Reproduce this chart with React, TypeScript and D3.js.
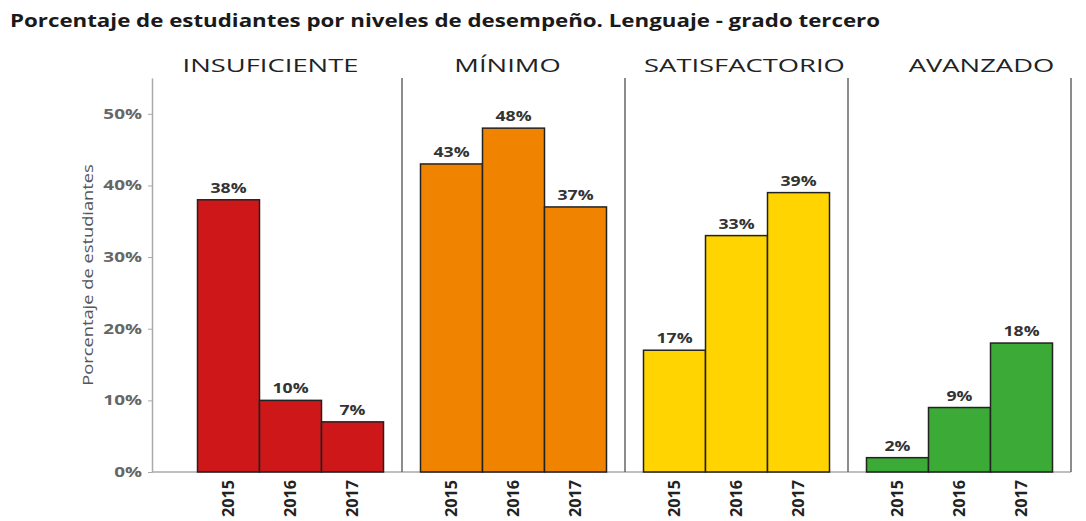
import * as d3 from 'd3';
import { useEffect, useRef } from 'react';

const levels = ['INSUFICIENTE', 'MÍNIMO', 'SATISFACTORIO', 'AVANZADO'];
const years = ['2015', '2016', '2017'];
const insuficiente = [38, 10, 7];
const minimo = [43, 48, 37];
const satisfactorio = [17, 33, 39];
const avanzado = [2, 9, 18];
const levelColors = ['#cd1719', '#f08400', '#ffd400', '#3caa36'];
const yTicks = [0, 10, 20, 30, 40, 50];

const App = () => {
  const svgRef = useRef<SVGSVGElement | null>(null);

  useEffect(() => {
    const width = 1086;
    const height = 521;
    const margin = { top: 78, right: 15, bottom: 49, left: 152 };
    const font = '"Open Sans", "DejaVu Sans", sans-serif';
    const values = [insuficiente, minimo, satisfactorio, avanzado];

    const svg = d3.select(svgRef.current)
      .attr('width', width)
      .attr('height', height);
    svg.selectAll('*').remove();

    const y = d3.scaleLinear()
      .domain([0, 55])
      .range([height - margin.bottom, margin.top]);

    // panels
    const x = d3.scaleBand<string>()
      .domain(levels)
      .range([179, width - margin.right])
      .paddingInner(0);

    // header labels sit a bit wider than the panels
    const xh = d3.scaleBand<string>()
      .domain(levels)
      .range([margin.left, 1100]);

    const xi = d3.scaleBand<string>()
      .domain(years)
      .range([18.5, x.bandwidth() - 18.5])
      .padding(0);

    // title
    svg.append('text')
      .attr('x', 10)
      .attr('y', 27)
      .attr('font-family', font)
      .attr('font-weight', 700)
      .attr('font-size', 17)
      .attr('fill', '#1a1a1a')
      .attr('textLength', 870)
      .attr('lengthAdjust', 'spacingAndGlyphs')
      .text('Porcentaje de estudiantes por niveles de desempeño. Lenguaje - grado tercero');

    // y axis
    const yAxis = svg.append('g')
      .attr('transform', `translate(${margin.left},0)`)
      .call(d3.axisLeft(y).tickValues(yTicks).tickFormat((d) => `${d}%`).tickSize(4).tickSizeOuter(0));
    yAxis.select('.domain').attr('stroke', '#aaa').attr('stroke-width', 1.5);
    yAxis.selectAll('.tick line').attr('stroke', '#aaa');
    yAxis.selectAll('.tick text')
      .attr('font-family', font)
      .attr('font-weight', 700)
      .attr('font-size', 14)
      .attr('fill', '#666')
      .attr('x', 0)
      .attr('transform', 'translate(-10,0) scale(1.35,1)');

    svg.append('text')
      .attr('transform', `translate(93,${(margin.top + height - margin.bottom) / 2}) rotate(-90) scale(1.22,1)`)
      .attr('text-anchor', 'middle')
      .attr('font-family', font)
      .attr('font-size', 15)
      .attr('fill', '#555')
      .text('Porcentaje de estudiantes');

    // baseline
    svg.append('line')
      .attr('x1', margin.left)
      .attr('x2', width - margin.right)
      .attr('y1', y(0))
      .attr('y2', y(0))
      .attr('stroke', '#aaa')
      .attr('stroke-width', 1.5);

    levels.forEach((lvl, i) => {
      svg.append('text')
        .attr('transform', `translate(${xh(lvl)! + xh.bandwidth() / 2},72) scale(1.44,1)`)
        .attr('text-anchor', 'middle')
        .attr('font-family', font)
        .attr('font-size', 19)
        .attr('fill', '#222')
        .text(lvl);

      const g = svg.append('g').attr('transform', `translate(${x(lvl)},0)`);

      g.append('line')
        .attr('x1', x.bandwidth())
        .attr('x2', x.bandwidth())
        .attr('y1', margin.top)
        .attr('y2', y(0))
        .attr('stroke', '#666')
        .attr('stroke-width', 1.5);

      g.selectAll('rect')
        .data(values[i])
        .join('rect')
        .attr('x', (_, j) => xi(years[j])!)
        .attr('y', (d) => y(d))
        .attr('width', xi.bandwidth())
        .attr('height', (d) => y(0) - y(d))
        .attr('fill', levelColors[i])
        .attr('stroke', '#222')
        .attr('stroke-width', 1.5);

      g.selectAll('text.val')
        .data(values[i])
        .join('text')
        .attr('class', 'val')
        .attr('transform', (d, j) => `translate(${xi(years[j])! + xi.bandwidth() / 2},${y(d) - 7}) scale(1.22,1)`)
        .attr('text-anchor', 'middle')
        .attr('font-family', font)
        .attr('font-weight', 700)
        .attr('font-size', 14.5)
        .attr('fill', '#333')
        .text((d) => `${d}%`);

      g.selectAll('text.yr')
        .data(years)
        .join('text')
        .attr('class', 'yr')
        .attr('transform', (d) => `translate(${xi(d)! + xi.bandwidth() / 2 + 5.5},${y(0) + 8}) rotate(-90) scale(1.12,1.1)`)
        .attr('text-anchor', 'end')
        .attr('font-family', font)
        .attr('font-weight', 700)
        .attr('font-size', 14.5)
        .attr('fill', '#222')
        .text((d) => d);
    });
  }, []);

  return <svg ref={svgRef} style={{ position: 'absolute', left: 0, top: 0 }}></svg>;
};

export default App;
